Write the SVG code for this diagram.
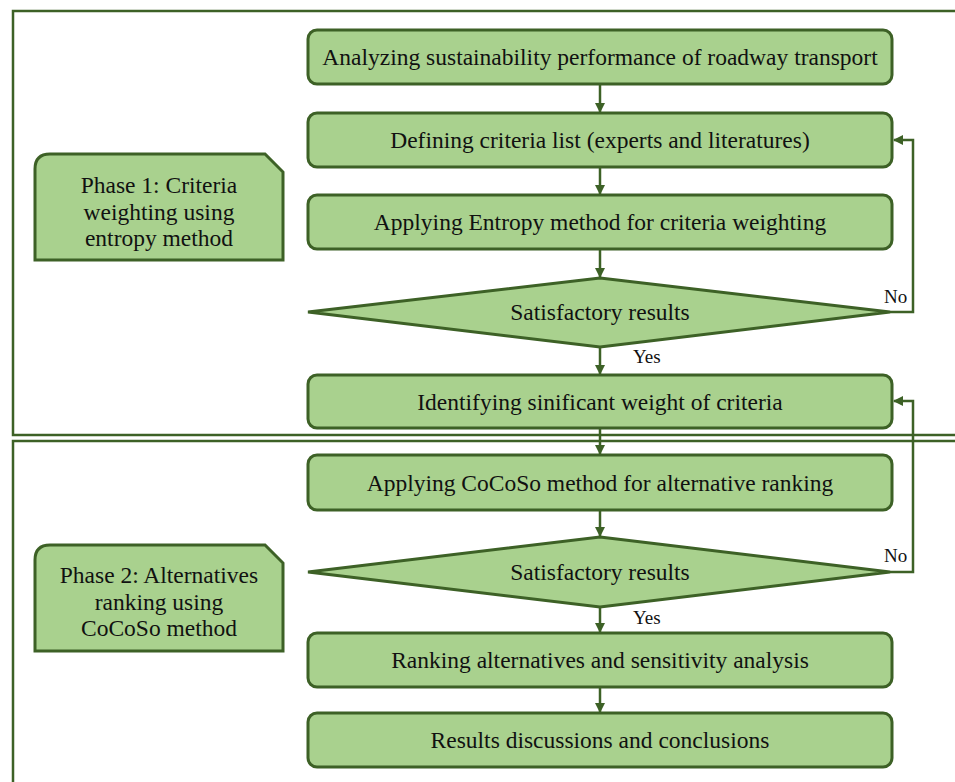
<svg xmlns="http://www.w3.org/2000/svg" width="955" height="782" viewBox="0 0 955 782">
<defs>
<style>
.frame{fill:none;stroke:#3d6126;stroke-width:2.5}
.box{fill:#a9d18e;stroke:#3d6126;stroke-width:3}
.t{font-family:"Liberation Serif","Times New Roman",serif;font-size:23.5px;fill:#111;text-anchor:middle}
.s{font-family:"Liberation Serif","Times New Roman",serif;font-size:19px;fill:#111}
.c{fill:none;stroke:#3d6126;stroke-width:2.5}
</style>
<marker id="ah" viewBox="0 0 10 10" refX="9" refY="5" markerWidth="4" markerHeight="4" orient="auto" markerUnits="strokeWidth">
<path d="M0,0 L10,5 L0,10 Z" fill="#3d6126"/>
</marker>
</defs>
<rect width="955" height="782" fill="#fff"/>
<g id="frames">
<rect class="frame" x="13" y="11" width="960" height="424"/>
<rect class="frame" x="13" y="441" width="960" height="360"/>
</g>
<g id="connectors">
<line class="c" x1="600" y1="84" x2="600" y2="112" marker-end="url(#ah)"/>
<line class="c" x1="600" y1="167" x2="600" y2="194" marker-end="url(#ah)"/>
<line class="c" x1="600" y1="249" x2="600" y2="277" marker-end="url(#ah)"/>
<line class="c" x1="600" y1="347" x2="600" y2="374" marker-end="url(#ah)"/>
<line class="c" x1="600" y1="428" x2="600" y2="454" marker-end="url(#ah)"/>
<line class="c" x1="600" y1="510" x2="600" y2="536" marker-end="url(#ah)"/>
<line class="c" x1="600" y1="607" x2="600" y2="632" marker-end="url(#ah)"/>
<line class="c" x1="600" y1="687" x2="600" y2="712" marker-end="url(#ah)"/>
<polyline class="c" points="890,312 913,312 913,140 894,140" marker-end="url(#ah)"/>
<polyline class="c" points="890,572 913,572 913,401 894,401" marker-end="url(#ah)"/>
<text class="s" x="884" y="303">No</text>
<text class="s" x="633" y="363">Yes</text>
<text class="s" x="884" y="562">No</text>
<text class="s" x="633" y="624">Yes</text>
</g>
<g id="phase1">
<path class="box" d="M35,260 L35,169 Q35,154 50,154 L265,154 L283,172 L283,260 Z"/>
<text class="t" x="159" y="193">Phase 1: Criteria</text>
<text class="t" x="159" y="220">weighting using</text>
<text class="t" x="159" y="246">entropy method</text>
</g>
<g id="phase2">
<path class="box" d="M35,651 L35,560 Q35,545 50,545 L265,545 L283,563 L283,651 Z"/>
<text class="t" x="159" y="583">Phase 2: Alternatives</text>
<text class="t" x="159" y="610">ranking using</text>
<text class="t" x="159" y="636">CoCoSo method</text>
</g>
<g id="n1">
<rect class="box" x="308" y="30" width="584" height="54" rx="9"/>
<text class="t" x="600" y="65">Analyzing sustainability performance of roadway transport</text>
</g>
<g id="n2">
<rect class="box" x="308" y="113" width="584" height="54" rx="9"/>
<text class="t" x="600" y="148">Defining criteria list (experts and literatures)</text>
</g>
<g id="n3">
<rect class="box" x="308" y="195" width="584" height="54" rx="9"/>
<text class="t" x="600" y="230">Applying Entropy method for criteria weighting</text>
</g>
<g id="d1">
<polygon class="box" points="600,278 890,312 600,347 308,312"/>
<text class="t" x="600" y="320">Satisfactory results</text>
</g>
<g id="n4">
<rect class="box" x="308" y="375" width="584" height="53" rx="9"/>
<text class="t" x="600" y="410">Identifying sinificant weight of criteria</text>
</g>
<g id="n5">
<rect class="box" x="308" y="455" width="584" height="55" rx="9"/>
<text class="t" x="600" y="491">Applying CoCoSo method for alternative ranking</text>
</g>
<g id="d2">
<polygon class="box" points="600,537 890,572 600,607 308,572"/>
<text class="t" x="600" y="580">Satisfactory results</text>
</g>
<g id="n6">
<rect class="box" x="308" y="633" width="584" height="54" rx="9"/>
<text class="t" x="600" y="668">Ranking alternatives and sensitivity analysis</text>
</g>
<g id="n7">
<rect class="box" x="308" y="713" width="584" height="54" rx="9"/>
<text class="t" x="600" y="748">Results discussions and conclusions</text>
</g>
</svg>
